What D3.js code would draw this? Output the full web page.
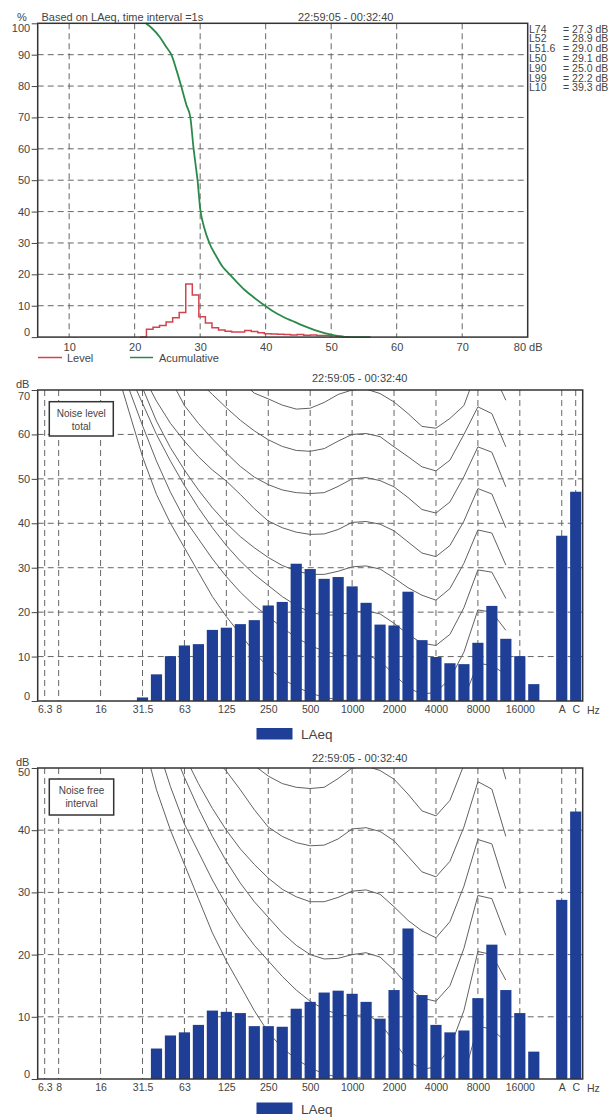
<!DOCTYPE html>
<html>
<head>
<meta charset="utf-8">
<script src="https://cdn.jsdelivr.net/npm/d3@7/dist/d3.min.js"></script>
<style>
  body { margin: 0; background: #fff; }
  svg text { font-family: "Liberation Sans", Arial, sans-serif; fill: #444; }
</style>
</head>
<body>
<div id="chart"></div>
<script>
//Datos - distribución estadística
const pctTicks = [0, 10, 20, 30, 40, 50, 60, 70, 80, 90, 100];
const dbTicks = [10, 20, 30, 40, 50, 60, 70, 80];

const levelDb  = [20.8, 21.8, 22.8, 23.8, 24.8, 25.8, 26.8, 27.8, 28.8, 29.8, 30.8, 31.8, 32.8, 33.8, 34.8, 35.8, 36.8,
                  37.8, 38.8, 39.8, 40.8, 41.8, 42.8, 43.8, 44.8, 45.8, 46.8, 47.8, 48.8, 49.8, 50.8, 51.8, 52.8];
const levelPct = [0, 2.5, 3.1, 3.7, 4.8, 6.2, 7.8, 16.9, 13.4, 6.5, 4.5, 3.0, 2.3, 1.9, 1.6, 1.6, 2.1,
                  1.8, 1.4, 1.1, 1.0, 0.9, 0.8, 0.7, 0.8, 0.6, 0.7, 0.5, 0.5, 0.4, 0.2, 0.1, 0];

const accDb  = [21.7, 22.6, 23.8, 24.8, 25.6, 26.4, 27.1, 27.9, 28.5, 29.0, 29.3, 29.6, 30.0, 30.6, 31.4, 32.4, 33.4, 34.5,
                35.6, 36.8, 38.1, 39.9, 41, 42, 43, 44, 45, 46, 47, 48, 49, 50, 51, 52, 53, 56];
const accPct = [100, 98.5, 95.7, 92.5, 90, 85, 80, 74, 70, 60, 55, 50, 41, 35, 30, 26, 22.5, 20,
                17.5, 15, 12.8, 10, 8.4, 7.2, 6.1, 5.2, 4.3, 3.4, 2.6, 1.9, 1.3, 0.8, 0.4, 0.1, 0, 0];

const statNames  = ['L74', 'L52', 'L51.6', 'L50', 'L90', 'L99', 'L10'];
const statValues = [27.3, 28.9, 29.0, 29.1, 25.0, 22.2, 39.3];

//Datos - espectro por tercios de octava
const bands = ['6.3', '8', '10', '12.5', '16', '20', '25', '31.5', '40', '50', '63', '80', '100', '125', '160', '200',
               '250', '315', '400', '500', '630', '800', '1000', '1250', '1600', '2000', '2500', '3150', '4000', '5000',
               '6300', '8000', '10000', '12500', '16000', '20000', '', 'A', 'C'];
const bandTicks = ['6.3', '8', '16', '31.5', '63', '125', '250', '500', '1000', '2000', '4000', '8000', '16000', 'A', 'C'];

const barBands = ['31.5', '40', '50', '63', '80', '100', '125', '160', '200', '250', '315', '400', '500', '630', '800',
                  '1000', '1250', '1600', '2000', '2500', '3150', '4000', '5000', '6300', '8000', '10000', '12500',
                  '16000', '20000', 'A', 'C'];
const noiseTotal = [0.8, 6.0, 10.1, 12.5, 12.8, 16.0, 16.5, 17.3, 18.2, 21.5, 22.3, 30.9, 29.7, 27.5, 27.9,
                    25.8, 22.1, 17.2, 17.0, 24.6, 13.7, 9.9, 8.5, 8.3, 13.1, 21.4, 14.0, 10.1, 3.8, 37.2, 47.1];
const noiseFree  = [null, 4.9, 7.0, 7.5, 8.7, 11.0, 10.8, 10.6, 8.5, 8.5, 8.4, 11.3, 12.4, 13.9, 14.2,
                    13.7, 12.4, 9.7, 14.3, 24.2, 13.5, 8.7, 7.5, 7.8, 13.0, 21.6, 14.3, 10.6, 4.4, 28.8, 43.0];

//Curvas de igual sonoridad (20 Hz - 12500 Hz)
const curveBands = ['20', '25', '31.5', '40', '50', '63', '80', '100', '125', '160', '200', '250', '315', '400', '500',
                    '630', '800', '1000', '1250', '1600', '2000', '2500', '3150', '4000', '5000', '6300', '8000',
                    '10000', '12500'];
const phon0  = [76, 65.5, 55, 46.5, 40, 34.5, 29, 23.5, 19, 15, 11, 7.5, 5, 3.2, 1.8,
                0.8, 0.3, 0, 0.5, -1.5, -4.5, -7.5, -9.5, -9.5, -6, 0.5, 8.5, 8, 6];
const phon10 = [79, 70.5, 62, 54, 47, 41, 36.5, 32, 28, 24.5, 21.5, 19, 16.5, 14.3, 12.5,
                11.2, 10.4, 10, 10.5, 9, 6, 3, 1.5, 2, 5, 11, 20.5, 20, 15.9];
const phon20 = [81, 74, 67, 60, 54, 48.5, 43.5, 39, 35, 31.5, 28.5, 26, 23.5, 21.5, 20,
                19.3, 19.4, 20, 20.3, 19.6, 17.5, 15, 13, 12.5, 15, 21, 29.5, 29, 23.1];
const phon30 = [88, 80, 70.5, 63, 57, 52, 47.5, 43.5, 40, 37, 34.5, 32.3, 30.5, 29.3, 28.5,
                28.5, 29.2, 30.2, 30.4, 29.7, 27.7, 25.5, 23.8, 22.7, 25.3, 31, 38.5, 37.8, 30.6];
const phon40 = [null, 82, 73.5, 67.5, 62.5, 58.5, 55, 52, 49.5, 46.5, 43.3, 40.5, 39, 38, 37.5,
                37.6, 38.6, 40.2, 40.4, 39.8, 38.3, 35.8, 33.3, 32.5, 35, 40.5, 47.8, 46.6, 39];
const phon50 = [null, null, 88, 79, 72.5, 66.5, 62.5, 59, 55.8, 52.8, 50.4, 48.7, 47.5, 46.9, 46.7,
                46.9, 48.3, 50, 50.3, 49.6, 48.2, 45.8, 43.1, 42.3, 44.8, 50.5, 57.2, 56, 48.2];
const phon60 = [null, null, null, 85, 79, 75, 72, 69, 66, 63.2, 60.8, 58.8, 57.3, 56.4, 56.2,
                56.8, 58.5, 60, 60.2, 59.5, 57.2, 55, 52.7, 51.8, 54.2, 60, 66.2, 64.7, 57.2];
const phon70 = [null, null, null, null, null, null, 84, 79.5, 75.5, 72, 69.3, 68, 66.6, 65.7, 65.9,
                67.2, 69, 70, 70.2, 69.2, 67.3, 64.7, 61.8, 61.4, 63.6, 66.5, 75, 74.5, 67.7];
const phonCurves = [phon0, phon10, phon20, phon30, phon40, phon50, phon60, phon70];

const periodo = '22:59:05 - 00:32:40';

//Colores
const COLOR_LEVEL = '#d4434d',
    COLOR_ACUM = '#2b8a4a',
    COLOR_BAR = '#1f3f96',
    COLOR_GRID = '#666',
    COLOR_FRAME = '#333',
    COLOR_CURVE = '#626262';

let svg = d3.select('#chart')
    .append('svg')
    .attr('width', 616)
    .attr('height', 1118);

function styleAxis(g) {
    g.attr('font-family', '"Liberation Sans", Arial, sans-serif')
        .attr('font-size', 11)
        .attr('color', '#444');
    g.select('.domain').remove();
}

function dashedH(g, y, x0, x1, values) {
    g.append('g').selectAll('line')
        .data(values)
        .enter()
        .append('line')
        .attr('x1', x0).attr('x2', x1)
        .attr('y1', d => y(d)).attr('y2', d => y(d))
        .attr('stroke', COLOR_GRID)
        .attr('stroke-dasharray', '6,4');
}

function dashedV(g, x, y0, y1, values) {
    g.append('g').selectAll('line')
        .data(values)
        .enter()
        .append('line')
        .attr('x1', d => x(d)).attr('x2', d => x(d))
        .attr('y1', y0).attr('y2', y1)
        .attr('stroke', COLOR_GRID)
        .attr('stroke-dasharray', '6,4');
}

//////
///// Gráfico 1 - Distribución
//////
(function() {
    let m = {left: 37.7, right: 527.7, top: 23.3, bottom: 337.1};
    let g = svg.append('g');

    let x = d3.scaleLinear().domain([5.2, 80]).range([m.left, m.right]);
    let y = d3.scaleLinear().domain([0, 100]).range([m.bottom, m.top]);

    dashedH(g, y, m.left, m.right, pctTicks.filter(d => d > 0 && d < 100));
    dashedV(g, x, m.top, m.bottom, dbTicks.filter(d => d < 80));

    //Nivel
    let levelData = levelDb.map((d, i) => [d, levelPct[i]]);
    g.append('path')
        .datum(levelData)
        .attr('fill', 'none')
        .attr('stroke', COLOR_LEVEL)
        .attr('stroke-width', 1.5)
        .attr('d', d3.line().x(d => x(d[0])).y(d => y(d[1])).curve(d3.curveStepAfter));

    //Acumulado
    let accData = accDb.map((d, i) => [d, accPct[i]]);
    g.append('path')
        .datum(accData)
        .attr('fill', 'none')
        .attr('stroke', COLOR_ACUM)
        .attr('stroke-width', 1.8)
        .attr('d', d3.line().x(d => x(d[0])).y(d => y(d[1])).curve(d3.curveMonotoneX));

    g.append('rect')
        .attr('x', m.left).attr('y', m.top)
        .attr('width', m.right - m.left).attr('height', m.bottom - m.top)
        .attr('fill', 'none').attr('stroke', COLOR_FRAME).attr('stroke-width', 1.5);

    g.append('g')
        .attr('transform', 'translate(' + m.left + ',0)')
        .call(d3.axisLeft(y).tickValues(pctTicks).tickSize(6).tickPadding(1.5))
        .call(styleAxis)
        .selectAll('.tick text')
        .attr('dy', d => d === 0 ? '-0.14em' : (d === 100 ? '0.77em' : '0.32em'));

    g.append('g')
        .attr('transform', 'translate(0,' + m.bottom + ')')
        .call(d3.axisBottom(x).tickValues(dbTicks).tickSize(0).tickPadding(6)
            .tickFormat(d => d === 80 ? '80 dB' : d))
        .call(styleAxis);

    //Cabecera
    g.append('text').attr('x', 17).attr('y', 20.5).attr('font-size', 11).text('%');
    g.append('text').attr('x', 41.5).attr('y', 20.5).attr('font-size', 11).text('Based on LAeq, time interval =1s');
    g.append('text').attr('x', 298).attr('y', 20.5).attr('font-size', 11).text(periodo);

    //Percentiles
    let stats = g.append('g');
    statNames.forEach(function(name, i) {
        stats.append('text').attr('x', 529).attr('y', 32.5 + i * 9.8).attr('font-size', 10.5).text(name);
        stats.append('text').attr('x', 563).attr('y', 32.5 + i * 9.8).attr('font-size', 10.5)
            .text('= ' + statValues[i].toFixed(1) + ' dB');
    });

    //Leyenda
    let leg = g.append('g');
    leg.append('line').attr('x1', 38).attr('x2', 62).attr('y1', 357.5).attr('y2', 357.5)
        .attr('stroke', COLOR_LEVEL).attr('stroke-width', 1.5);
    leg.append('text').attr('x', 67).attr('y', 362).attr('font-size', 11).text('Level');
    leg.append('line').attr('x1', 130).attr('x2', 153).attr('y1', 357.5).attr('y2', 357.5)
        .attr('stroke', COLOR_ACUM).attr('stroke-width', 1.5);
    leg.append('text').attr('x', 159).attr('y', 362).attr('font-size', 11).text('Acumulative');
})();

//////
///// Gráficos 2 y 3 - Espectro
//////
function drawSpectrum(opt) {
    let m = {left: 37.7, right: 582.7, top: opt.top, bottom: opt.bottom};
    let g = svg.append('g');

    let x = d3.scalePoint().domain(bands).range([m.left, m.right]).padding(0.5);
    let y = d3.scaleLinear().domain([0, opt.max]).range([m.bottom, m.top]);
    let yTicks = d3.range(0, opt.max + 1, 10);

    dashedH(g, y, m.left, m.right, yTicks.filter(d => d > 0 && d < opt.max));
    dashedV(g, x, m.top, m.bottom, bandTicks);

    //Curvas de sonoridad
    let clipId = 'clip-' + opt.id;
    svg.append('clipPath').attr('id', clipId)
        .append('rect')
        .attr('x', m.left).attr('y', m.top)
        .attr('width', m.right - m.left).attr('height', m.bottom - m.top);

    let line = d3.line()
        .defined(d => d[1] != null)
        .x(d => x(d[0]))
        .y(d => y(d[1]));

    g.append('g')
        .attr('clip-path', 'url(#' + clipId + ')')
        .selectAll('path')
        .data(phonCurves)
        .enter()
        .append('path')
        .attr('fill', 'none')
        .attr('stroke', COLOR_CURVE)
        .attr('stroke-width', 1)
        .attr('d', d => line(curveBands.map((b, i) => [b, d[i]])));

    //Barras
    let bw = x.step() * 0.8;
    g.append('g')
        .selectAll('rect')
        .data(barBands.map((b, i) => ({band: b, value: opt.values[i]})).filter(d => d.value != null))
        .enter()
        .append('rect')
        .attr('x', d => x(d.band) - bw / 2)
        .attr('y', d => y(d.value))
        .attr('width', bw)
        .attr('height', d => y(0) - y(d.value))
        .attr('fill', COLOR_BAR);

    g.append('rect')
        .attr('x', m.left).attr('y', m.top)
        .attr('width', m.right - m.left).attr('height', m.bottom - m.top)
        .attr('fill', 'none').attr('stroke', COLOR_FRAME).attr('stroke-width', 1.5);

    g.append('g')
        .attr('transform', 'translate(' + m.left + ',0)')
        .call(d3.axisLeft(y).tickValues(yTicks).tickSize(6).tickPadding(1.5))
        .call(styleAxis)
        .selectAll('.tick text')
        .attr('dy', d => d === 0 ? '-0.14em' : (d === opt.max ? opt.topDy : '0.32em'));

    g.append('g')
        .attr('transform', 'translate(0,' + m.bottom + ')')
        .call(d3.axisBottom(x).tickValues(bandTicks).tickSize(0).tickPadding(4.5))
        .call(styleAxis)
        .attr('font-size', 10.5);

    g.append('text').attr('x', 587).attr('y', m.bottom + 12.5).attr('font-size', 10.5).text('Hz');
    g.append('text').attr('x', 16).attr('y', opt.dbY).attr('font-size', 11).text('dB');
    g.append('text').attr('x', 312).attr('y', opt.titleY).attr('font-size', 11).text(periodo);

    //Recuadro de texto
    let box = opt.box;
    g.append('rect')
        .attr('x', box.x).attr('y', box.y).attr('width', box.w).attr('height', box.h)
        .attr('fill', '#fff').attr('stroke', COLOR_FRAME).attr('stroke-width', 1.5);
    box.lines.forEach(function(t, i) {
        g.append('text')
            .attr('x', box.x + box.w / 2)
            .attr('y', box.y + 15 + i * 13)
            .attr('text-anchor', 'middle')
            .attr('font-size', 10)
            .text(t);
    });

    //Leyenda
    g.append('rect')
        .attr('x', 256.5).attr('y', opt.legendY)
        .attr('width', 36).attr('height', 11.5)
        .attr('fill', COLOR_BAR);
    g.append('text')
        .attr('x', 301).attr('y', opt.legendY + 11)
        .attr('font-size', 13.5)
        .text('LAeq');
}

drawSpectrum({
    id: 'total', top: 390, bottom: 701, max: 70, values: noiseTotal,
    topDy: '0.84em', dbY: 388, titleY: 382,
    box: {x: 49.3, y: 401.7, w: 64, h: 34.3, lines: ['Noise level', 'total']},
    legendY: 728
});

drawSpectrum({
    id: 'free', top: 768, bottom: 1079, max: 50, values: noiseFree,
    topDy: '0.68em', dbY: 765.5, titleY: 762,
    box: {x: 49.3, y: 779, w: 64.4, h: 36, lines: ['Noise free', 'interval']},
    legendY: 1102.5
});
</script>
</body>
</html>
